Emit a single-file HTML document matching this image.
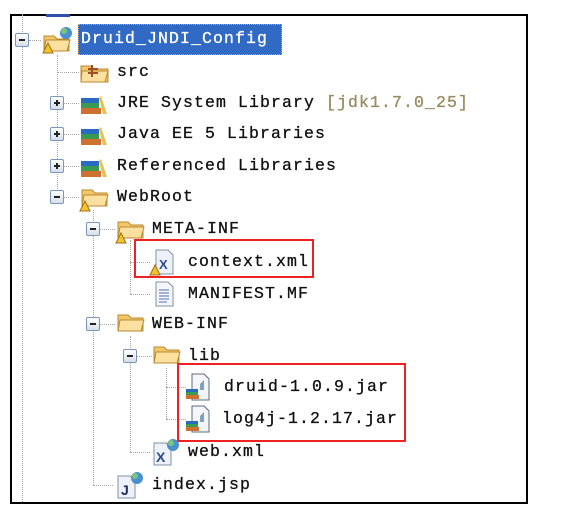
<!DOCTYPE html>
<html><head><meta charset="utf-8"><style>
body{margin:0;width:586px;height:530px;background:#fff;position:relative;overflow:hidden;font-family:"Liberation Mono","Noto Sans CJK SC",monospace;}
.frame{position:absolute;left:10px;top:14px;width:514px;height:486px;border:2px solid #000;}
.t{position:absolute;font-size:16.5px;letter-spacing:1.1px;line-height:20px;color:#111;white-space:nowrap;-webkit-text-stroke:0.3px #111;}
.v{position:absolute;width:0;border-left:1px dotted #a8a8a8;}
.h{position:absolute;height:0;border-top:1px dotted #a8a8a8;}
.exp{position:absolute;width:12px;height:12px;border:1px solid #7a96b8;border-radius:2px;background:linear-gradient(#fff,#d6dee8);}
.exp:before{content:"";position:absolute;left:3px;top:5px;width:6px;height:2px;background:#222;}
.exp.p:after{content:"";position:absolute;left:5px;top:3px;width:2px;height:6px;background:#222;}
.ic{position:absolute;}
.red{position:absolute;border:2px solid #ee2222;}
</style></head><body>
<div class="frame"></div>
<div style="position:absolute;left:46px;top:14px;width:24px;height:3px;background:#3050b0"></div>

<div class="v" style="left:22px;top:14px;height:488px"></div>
<div class="v" style="left:57px;top:55px;height:142px"></div>
<div class="v" style="left:93px;top:210px;height:275px"></div>
<div class="v" style="left:130px;top:240px;height:54px"></div>
<div class="v" style="left:130px;top:336px;height:116px"></div>
<div class="v" style="left:166px;top:368px;height:51px"></div>
<div class="h" style="left:29px;top:40px;width:12px"></div>
<div class="h" style="left:57px;top:72px;width:22px"></div>
<div class="h" style="left:64px;top:103px;width:15px"></div>
<div class="h" style="left:64px;top:134px;width:15px"></div>
<div class="h" style="left:64px;top:166px;width:15px"></div>
<div class="h" style="left:64px;top:197px;width:15px"></div>
<div class="h" style="left:100px;top:229px;width:15px"></div>
<div class="h" style="left:130px;top:262px;width:20px"></div>
<div class="h" style="left:130px;top:294px;width:20px"></div>
<div class="h" style="left:100px;top:324px;width:15px"></div>
<div class="h" style="left:137px;top:356px;width:15px"></div>
<div class="h" style="left:166px;top:387px;width:20px"></div>
<div class="h" style="left:166px;top:419px;width:20px"></div>
<div class="h" style="left:130px;top:452px;width:20px"></div>
<div class="h" style="left:93px;top:485px;width:20px"></div>

<div class="exp" style="left:15px;top:33px"></div>
<div class="exp p" style="left:50px;top:96px"></div>
<div class="exp p" style="left:50px;top:127px"></div>
<div class="exp p" style="left:50px;top:159px"></div>
<div class="exp" style="left:50px;top:190px"></div>
<div class="exp" style="left:86px;top:222px"></div>
<div class="exp" style="left:86px;top:317px"></div>
<div class="exp" style="left:123px;top:349px"></div>

<svg class="ic" style="left:42px;top:26px" width="32" height="28"><path d="M2 10h10l3 3h12v12H2z" fill="#f3c66a" stroke="#b88a30"/><path d="M4 14h24l-3 11H2z" fill="#fbe0a0" stroke="#b88a30"/><circle cx="24" cy="7" r="6" fill="#4a8fd0"/><circle cx="22" cy="5" r="3" fill="#7bc67b"/><path d="M1 27l5-10 5 10z" fill="#f2c230" stroke="#a07010"/></svg>
<svg class="ic" style="left:80px;top:62px" width="30" height="22"><path d="M1 4h10l3 3h14v13H1z" fill="#f3c66a" stroke="#b88a30"/><path d="M2 9h26l-3 11H1z" fill="#fbe0a0" stroke="#b88a30"/><path d="M12 3v12M8 7h10M8 11h10" stroke="#a05020" stroke-width="2"/></svg>
<svg class="ic" style="left:80px;top:92px" width="30" height="24"><rect x="1" y="6" width="18" height="5" fill="#2a6ac0"/><rect x="1" y="11" width="18" height="5" fill="#3a9a50"/><rect x="1" y="16" width="20" height="6" fill="#d07030"/><path d="M21 4l6 18h-4l-4-16z" fill="#e8c050"/></svg>
<svg class="ic" style="left:80px;top:123px" width="30" height="24"><rect x="1" y="6" width="18" height="5" fill="#2a6ac0"/><rect x="1" y="11" width="18" height="5" fill="#3a9a50"/><rect x="1" y="16" width="20" height="6" fill="#d07030"/><path d="M21 4l6 18h-4l-4-16z" fill="#e8c050"/></svg>
<svg class="ic" style="left:80px;top:155px" width="30" height="24"><rect x="1" y="6" width="18" height="5" fill="#2a6ac0"/><rect x="1" y="11" width="18" height="5" fill="#3a9a50"/><rect x="1" y="16" width="20" height="6" fill="#d07030"/><path d="M21 4l6 18h-4l-4-16z" fill="#e8c050"/></svg>
<svg class="ic" style="left:78px;top:185px" width="32" height="28"><path d="M4 5h10l3 3h12v13H4z" fill="#f3c66a" stroke="#b88a30"/><path d="M6 10h24l-3 11H4z" fill="#fbe0a0" stroke="#b88a30"/><path d="M2 26l5-10 5 10z" fill="#f2c230" stroke="#a07010"/></svg>
<svg class="ic" style="left:114px;top:217px" width="32" height="28"><path d="M4 5h10l3 3h12v13H4z" fill="#f3c66a" stroke="#b88a30"/><path d="M6 10h24l-3 11H4z" fill="#fbe0a0" stroke="#b88a30"/><path d="M2 26l5-10 5 10z" fill="#f2c230" stroke="#a07010"/></svg>
<svg class="ic" style="left:146px;top:248px" width="30" height="28"><path d="M10 2h12l5 5v19H10z" fill="#eef2f8" stroke="#8090a8"/><text x="13" y="21" font-size="13" font-family="Liberation Sans" font-weight="bold" fill="#2a4a90">X</text><path d="M4 27l5-10 5 10z" fill="#f2c230" stroke="#a07010"/></svg>
<svg class="ic" style="left:152px;top:280px" width="26" height="28"><path d="M4 2h12l5 5v19H4z" fill="#f4f6fa" stroke="#8090a8"/><path d="M7 10h10M7 13h10M7 16h10M7 19h10M7 22h8" stroke="#5070b0"/></svg>
<svg class="ic" style="left:116px;top:312px" width="32" height="24"><path d="M2 3h10l3 3h12v13H2z" fill="#f3c66a" stroke="#b88a30"/><path d="M4 8h24l-3 11H2z" fill="#fbe0a0" stroke="#b88a30"/></svg>
<svg class="ic" style="left:152px;top:344px" width="32" height="24"><path d="M2 3h10l3 3h12v13H2z" fill="#f3c66a" stroke="#b88a30"/><path d="M4 8h24l-3 11H2z" fill="#fbe0a0" stroke="#b88a30"/></svg>
<svg class="ic" style="left:184px;top:372px" width="30" height="30"><path d="M8 2h12l5 5v21H8z" fill="#f4f6fa" stroke="#606878"/><path d="M16 12l4-4v10h-4z" fill="#80a0c0"/><rect x="2" y="17" width="12" height="3" fill="#2a6ac0"/><rect x="2" y="20" width="12" height="3" fill="#3a9a50"/><rect x="2" y="23" width="13" height="4" fill="#d07030"/></svg>
<svg class="ic" style="left:184px;top:404px" width="30" height="30"><path d="M8 2h12l5 5v21H8z" fill="#f4f6fa" stroke="#606878"/><path d="M16 12l4-4v10h-4z" fill="#80a0c0"/><rect x="2" y="17" width="12" height="3" fill="#2a6ac0"/><rect x="2" y="20" width="12" height="3" fill="#3a9a50"/><rect x="2" y="23" width="13" height="4" fill="#d07030"/></svg>
<svg class="ic" style="left:150px;top:437px" width="32" height="30"><path d="M4 6h12l5 5v17H4z" fill="#eef2f8" stroke="#8090a8"/><text x="6" y="25" font-size="14" font-family="Liberation Sans" font-weight="bold" fill="#2a4a90">X</text><circle cx="23" cy="8" r="6" fill="#4a8fd0"/><circle cx="21" cy="6" r="3" fill="#7bc67b"/></svg>
<svg class="ic" style="left:114px;top:470px" width="32" height="30"><path d="M4 6h12l5 5v17H4z" fill="#eef2f8" stroke="#8090a8"/><text x="7" y="25" font-size="14" font-family="Liberation Sans" font-weight="bold" fill="#1a2a60">J</text><circle cx="23" cy="8" r="6" fill="#4a8fd0"/><circle cx="21" cy="6" r="3" fill="#7bc67b"/></svg>

<div style="position:absolute;left:78px;top:24px;width:202px;height:29px;background:#316ac5;border:1px dotted #e8a040"></div>

<div class="t" style="left:81px;top:29px;color:#fff;-webkit-text-stroke:0.3px #fff">Druid_JNDI_Config</div>
<div class="t" style="left:117px;top:62px">src</div>
<div class="t" style="left:117px;top:93px">JRE System Library <span style="color:#9a8a60;-webkit-text-stroke:0.3px #9a8a60">[jdk1.7.0_25]</span></div>
<div class="t" style="left:117px;top:124px">Java EE 5 Libraries</div>
<div class="t" style="left:117px;top:156px">Referenced Libraries</div>
<div class="t" style="left:117px;top:187px">WebRoot</div>
<div class="t" style="left:152px;top:219px">META-INF</div>
<div class="t" style="left:188px;top:252px">context.xml</div>
<div class="t" style="left:188px;top:284px">MANIFEST.MF</div>
<div class="t" style="left:152px;top:314px">WEB-INF</div>
<div class="t" style="left:188px;top:346px">lib</div>
<div class="t" style="left:224px;top:377px">druid-1.0.9.jar</div>
<div class="t" style="left:222px;top:409px">log4j-1.2.17.jar</div>
<div class="t" style="left:188px;top:442px">web.xml</div>
<div class="t" style="left:152px;top:475px">index.jsp</div>

<div class="red" style="left:134px;top:239px;width:176px;height:35px"></div>
<div class="red" style="left:177px;top:363px;width:225px;height:75px"></div>
</body></html>
